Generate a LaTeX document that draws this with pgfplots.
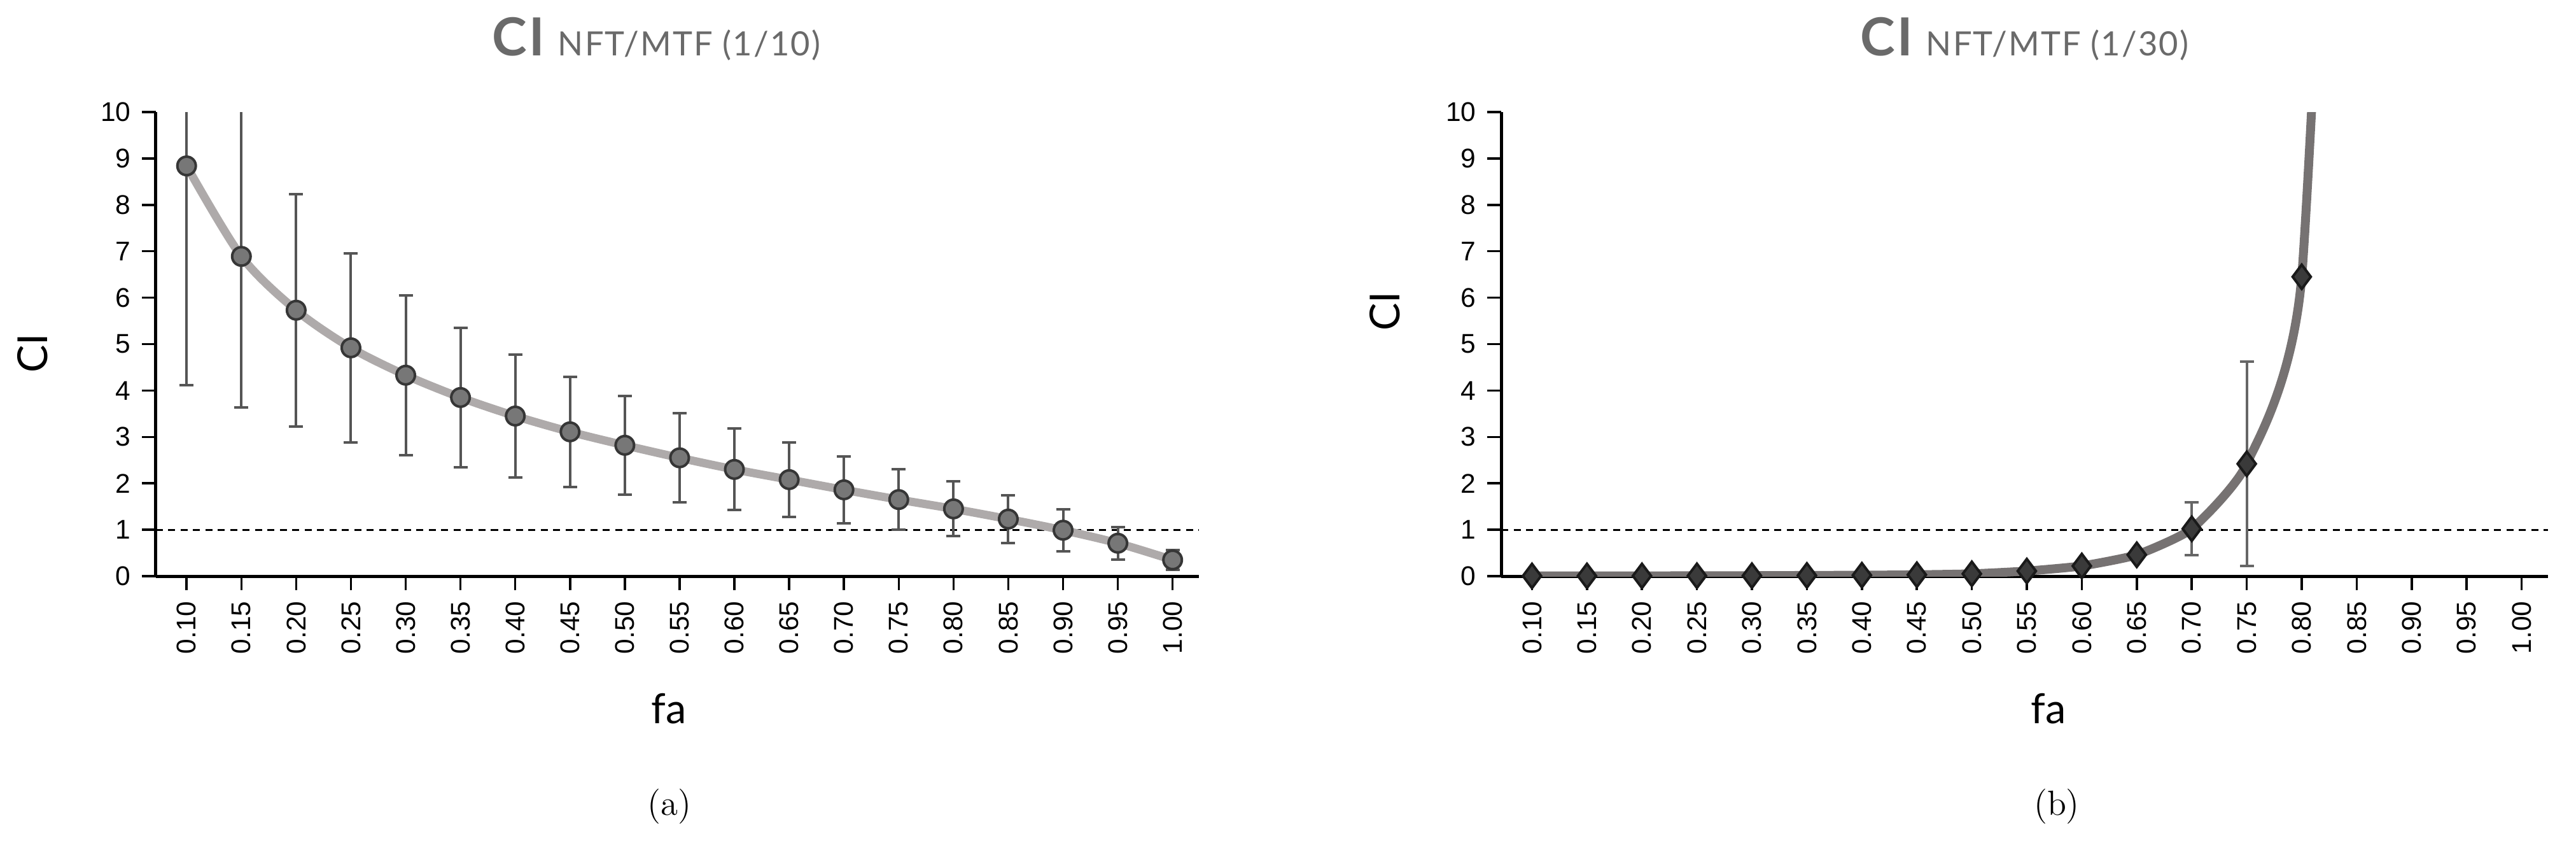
\documentclass[border=0pt]{standalone}
\usepackage{fontspec}
\usepackage{pgfplots}
\usepackage{pgfplotstable}
\pgfplotsset{compat=1.18}

\newfontfamily\tickfont{Liberation Sans}
\newfontfamily\labfont{Lato}
\newfontfamily\titlefont[LetterSpace=4]{Lato}

\definecolor{lineA}{HTML}{AEAAAA}
\definecolor{markA}{HTML}{777777}
\definecolor{edgeA}{HTML}{363636}
\definecolor{errA}{HTML}{555555}
\definecolor{lineB}{HTML}{767272}
\definecolor{markB}{HTML}{3A3A3A}
\definecolor{edgeB}{HTML}{1A1A1A}
\definecolor{errB}{HTML}{666666}
\definecolor{titlegray}{HTML}{6A6A6A}

% CI for NFT/MTF 1/10, with error
\pgfplotstableread{
x    y    e
0.10 8.84 4.72
0.15 6.89 3.25
0.20 5.73 2.50
0.25 4.92 2.04
0.30 4.33 1.72
0.35 3.85 1.50
0.40 3.45 1.32
0.45 3.11 1.19
0.50 2.82 1.06
0.55 2.55 0.96
0.60 2.30 0.88
0.65 2.08 0.80
0.70 1.86 0.72
0.75 1.65 0.65
0.80 1.45 0.59
0.85 1.23 0.51
0.90 0.99 0.45
0.95 0.71 0.35
1.00 0.35 0.21
}\dataA

% CI for NFT/MTF 1/30
\pgfplotstableread{
x    y
0.10 0.005
0.15 0.005
0.20 0.006
0.25 0.008
0.30 0.010
0.35 0.015
0.40 0.020
0.45 0.030
0.50 0.050
0.55 0.110
0.60 0.220
0.65 0.460
0.70 1.020
0.75 2.420
0.80 6.450
0.85 30.00
}\dataB

\pgfplotstableread{
x    y    e
0.70 1.02 0.57
0.75 2.42 2.20
}\errB

\pgfplotsset{
  cistyle/.style={
    scale only axis,
    height=145.8pt,
    xmin=0.072, xmax=1.024, ymin=0, ymax=10,
    axis x line=bottom, axis y line=left,
    axis line style={-, line width=1pt, black},
    tick align=outside, major tick length=4.4pt,
    every tick/.style={black, line width=0.7pt},
    xtick={0.10,0.15,0.20,0.25,0.30,0.35,0.40,0.45,0.50,0.55,0.60,0.65,0.70,0.75,0.80,0.85,0.90,0.95,1.00},
    xticklabels={0.10,0.15,0.20,0.25,0.30,0.35,0.40,0.45,0.50,0.55,0.60,0.65,0.70,0.75,0.80,0.85,0.90,0.95,1.00},
    ytick={0,1,2,3,4,5,6,7,8,9,10},
    /pgf/number format/assume math mode=true,
    x tick label style={rotate=90, anchor=east, font=\tickfont\fontsize{8.5}{10}\selectfont},
    y tick label style={font=\tickfont\fontsize{8.5}{10}\selectfont},
    xlabel=fa, ylabel=CI,
    label style={font=\labfont\fontsize{13}{15}\selectfont},
    title style={anchor=base, text=titlegray, font=\titlefont},
  }
}

\begin{document}
\begin{tikzpicture}
\useasboundingbox (0,0) rectangle (809.6pt,268.4pt);

% (a)
\begin{axis}[cistyle,
  at={(49pt,87.4pt)}, anchor=south west, width=327.8pt,
  title={\textbf{\fontsize{16.5}{18}\selectfont CI}\hspace{3.5pt}{\fontsize{10.5}{12}\selectfont NFT/MTF (1/10)}},
  title style={at={(axis description cs:0.5,1)}, yshift=11.8pt, xshift=-6.6pt},
  xlabel style={at={(axis description cs:0.492,0)}, anchor=base, yshift=-46.2pt},
  ylabel style={at={(axis description cs:-0.118,0.48)}, anchor=center},
]
\addplot[black, line width=0.6pt, dash pattern=on 2.2pt off 1.7pt] coordinates {(0.072,1) (1.024,1)};
\addplot[lineA, line width=2.6pt, smooth, no marks] table[x=x,y=y] {\dataA};
\addplot[only marks, mark=none,
  error bars/.cd, y dir=both, y explicit,
  error bar style={errA, line width=0.8pt},
  error mark options={rotate=90, mark size=2.2pt, errA, line width=0.8pt}]
  table[x=x,y=y,y error=e] {\dataA};
\addplot[only marks, mark=*, mark size=2.9pt,
  mark options={fill=markA, draw=edgeA, line width=0.8pt}]
  table[x=x,y=y] {\dataA};
\end{axis}

% (b)
\begin{axis}[cistyle,
  at={(471.8pt,87.4pt)}, anchor=south west, width=329pt,
  title={\textbf{\fontsize{16.5}{18}\selectfont CI}\hspace{3.5pt}{\fontsize{10.5}{12}\selectfont NFT/MTF (1/30)}},
  title style={at={(axis description cs:0.5,1)}, yshift=11.8pt},
  xlabel style={at={(axis description cs:0.523,0)}, anchor=base, yshift=-46.2pt},
  ylabel style={at={(axis description cs:-0.111,0.571)}, anchor=center},
]
\addplot[black, line width=0.6pt, dash pattern=on 2.2pt off 1.7pt] coordinates {(0.072,1) (1.024,1)};
\addplot[lineB, line width=2.8pt, smooth, tension=0.3, no marks] table[x=x,y=y] {\dataB};
\addplot[only marks, mark=none,
  error bars/.cd, y dir=both, y explicit,
  error bar style={errB, line width=0.8pt},
  error mark options={rotate=90, mark size=2.2pt, errB, line width=0.8pt}]
  table[x=x,y=y,y error=e] {\errB};
\addplot[only marks, mark=diamond*, mark size=3.8pt,
  restrict y to domain=-1:10,
  mark options={fill=markB, draw=edgeB, line width=0.8pt}]
  table[x=x,y=y] {\dataB};
\end{axis}

\node[font=\fontsize{11}{13}\selectfont] at (210.4pt,15pt) {(a)};
\node[font=\fontsize{11}{13}\selectfont] at (646.4pt,15pt) {(b)};
\end{tikzpicture}
\end{document}
